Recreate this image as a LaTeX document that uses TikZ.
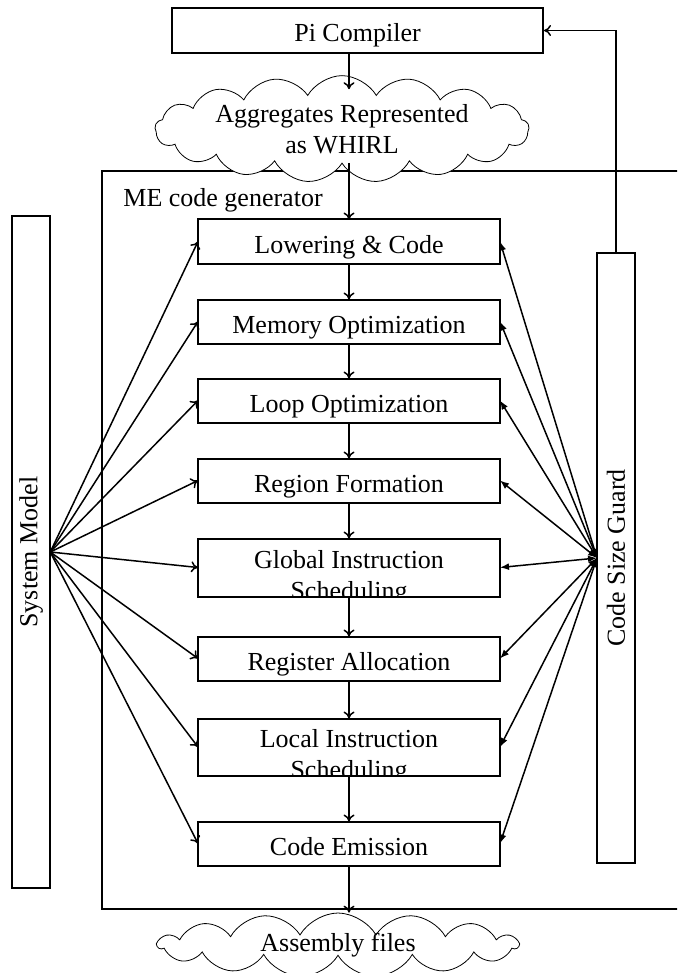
\documentclass[tikz,border=0pt]{standalone}
\usepackage{fontspec}
\setmainfont{Liberation Serif}
\usetikzlibrary{positioning,shapes.symbols,arrows.meta}

\tikzset{
  stagebox/.style={draw, line width=1pt, minimum width=151pt, minimum height=22pt,
    inner sep=0pt, outer sep=0pt, text height=12pt, text depth=0.5pt},
  stagetext/.style={align=center, inner sep=0pt},
  sidebox/.style={draw, line width=0.8pt, minimum width=19pt, inner sep=0pt, outer sep=0pt},
  puff/.style={cloud, draw, fill=white, line width=0.4pt, cloud puffs=17,
    cloud puff arc=120, cloud ignores aspect, align=center, inner sep=0pt},
  flow/.style={-{To[length=3.5pt,width=5.5pt]}, line width=0.75pt},
  guardlink/.style={{Latex[length=4.5pt,width=3.5pt]}-{Latex[length=4.5pt,width=3.5pt]},
    line width=0.75pt}
}

\begin{document}
\begin{tikzpicture}[x=0.5pt, y=-0.5pt, font=\fontsize{13}{15.5}\selectfont]
  \clip (0,0) rectangle (677,973);

  % code generator frame, open to the right
  \draw[line width=0.9pt] (690,171) -- (102,171) -- (102,909) -- (690,909);
  \node[anchor=base west, inner sep=0pt] (melabel) at (123,206) {ME code generator};

  \node[draw, line width=1pt, minimum width=185.5pt, minimum height=22.5pt,
        inner sep=0pt, text height=12pt, text depth=0.5pt] (pi) at (357.5,30.5) {Pi Compiler};
  \node[puff, minimum width=187pt, minimum height=52pt] (agg) at (342,129)
    {Aggregates Represented\\as WHIRL};

  % the pipeline
  \node[stagebox] (lower) at (349,241.5) {Lowering \& Code};
  \node[stagebox, below=18pt of lower] (mem) {Memory Optimization};
  \node[stagebox, below=17.5pt of mem] (loop) {Loop Optimization};
  \node[stagebox, below=18pt of loop] (region) {Region Formation};
  \node[stagebox, minimum height=29pt, below=18pt of region] (glob) {};
  \node[stagebox, below=20pt of glob] (reg) {Register Allocation};
  \node[stagebox, minimum height=28.5pt, below=19pt of reg] (local) {};
  \node[stagebox, below=23pt of local] (emit) {Code Emission};

  % two-line labels run past the bottom edge
  \begin{scope}
    \clip (glob.south west) rectangle (glob.north east);
    \node[stagetext] (globtext) at ([yshift=-5pt]glob.center)
      {Global Instruction\\Scheduling};
  \end{scope}
  \begin{scope}
    \clip (local.south west) rectangle (local.north east);
    \node[stagetext] (localtext) at ([yshift=-5pt]local.center)
      {Local Instruction\\Scheduling};
  \end{scope}

  \node[puff, cloud puffs=15, minimum width=180pt, minimum height=32pt] (asm) at (338,945)
    {Assembly files};

  \node[sidebox, minimum height=336pt] (sys) at (31.25,552)
    {\rotatebox{90}{System Model}};
  \node[sidebox, minimum height=305pt] (guard) at (616,558)
    {\rotatebox{90}{Code Size Guard}};

  % vertical flow
  \coordinate (aggtop) at ([yshift=-7pt]agg.north);
  \coordinate (aggout) at ([yshift=-17pt]agg.center);
  \draw[flow] (pi.south -| lower.north) -- (aggtop -| lower.north);
  \draw[flow] (aggout -| lower.north) -- (lower.north);
  \foreach \a/\b in {lower/mem, mem/loop, loop/region, region/glob,
                     glob/reg, reg/local, local/emit}
    \draw[flow] (\a) -- (\b);
  \draw[flow] (emit.south) -- (emit.south |- asm.north);

  % side links
  \foreach \s in {lower, mem, loop, region, glob, reg, local, emit} {
    \draw[flow] (sys.east) -- (\s.west);
    \draw[guardlink] (guard.west) -- (\s.east);
  }
  \draw[flow] (guard.north) |- (pi.east);
\end{tikzpicture}
\end{document}
